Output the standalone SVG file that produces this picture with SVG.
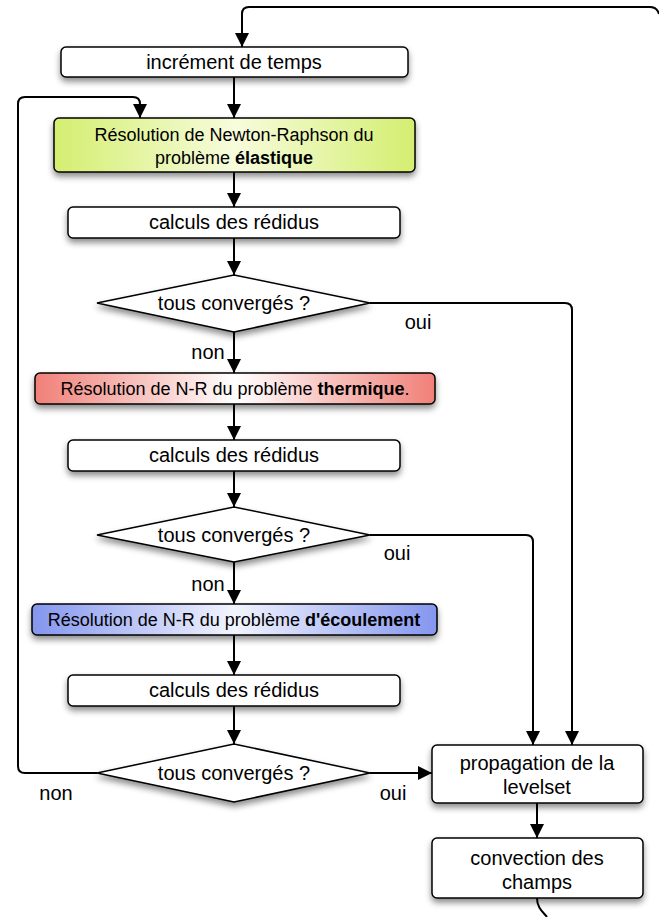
<svg xmlns="http://www.w3.org/2000/svg" width="659" height="917" viewBox="0 0 659 917">
<style>
.box{stroke:#000;stroke-width:1.5;filter:url(#sh)}
.w{fill:#fff}
.t{font-family:"Liberation Sans",Arial,sans-serif;font-size:20px;fill:#000;text-anchor:middle}
.s{font-size:18px}
.b{font-weight:bold}
.c{fill:none;stroke:#000;stroke-width:2}
.a{marker-end:url(#ar)}
</style>
<defs>
<filter id="sh" x="-10%" y="-30%" width="120%" height="170%">
<feDropShadow dx="0" dy="4" stdDeviation="3" flood-color="#000" flood-opacity="0.45"/>
</filter>
<marker id="ar" markerUnits="userSpaceOnUse" markerWidth="14" markerHeight="16" viewBox="0 0 14 16" refX="14" refY="8" orient="auto">
<path d="M0,1 L14,8 L0,15 Z" fill="#000"/>
</marker>
<linearGradient id="gg" x1="0" y1="0" x2="1" y2="0">
<stop offset="0" stop-color="#d4ee70"/><stop offset="0.5" stop-color="#f7fcdc"/><stop offset="1" stop-color="#d4ee70"/>
</linearGradient>
<linearGradient id="gr" x1="0" y1="0" x2="1" y2="0">
<stop offset="0" stop-color="#f08078"/><stop offset="0.5" stop-color="#ffffff"/><stop offset="1" stop-color="#f08078"/>
</linearGradient>
<linearGradient id="gb" x1="0" y1="0" x2="1" y2="0">
<stop offset="0" stop-color="#8496ee"/><stop offset="0.5" stop-color="#f2f4fe"/><stop offset="1" stop-color="#8496ee"/>
</linearGradient>
</defs>
<g id="connectors">
<path class="c" d="M537 898 C537 908 543 912 547 917"/>
<path class="c a" d="M659 14 Q657 7 650 7 H249 Q242 7 242 14 V47"/>
<path class="c a" d="M234 77 V118"/>
<path class="c a" d="M97 773 H25 Q18 773 18 766 V104 Q18 97 25 97 H133 Q140 97 140 104 V118"/>
<path class="c a" d="M234 172 V207"/>
<path class="c a" d="M234 238 V275"/>
<path class="c a" d="M234 332 V373"/>
<path class="c a" d="M370 303 H565 Q572 303 572 310 V745"/>
<path class="c a" d="M234 404 V440"/>
<path class="c a" d="M234 471 V507"/>
<path class="c a" d="M234 562 V604"/>
<path class="c a" d="M370 535 H526 Q533 535 533 542 V745"/>
<path class="c a" d="M234 635 V675"/>
<path class="c a" d="M234 706 V744"/>
<path class="c a" d="M370 773 H432"/>
<path class="c a" d="M537 803 V838"/>
<text class="t" x="418" y="329">oui</text>
<text class="t" x="208" y="359">non</text>
<text class="t" x="397" y="560">oui</text>
<text class="t" x="208" y="591">non</text>
<text class="t" x="393" y="800">oui</text>
<text class="t" x="56" y="800">non</text>
</g>
<g id="n1"><rect class="box w" x="61" y="47" width="347" height="30" rx="5"/><text class="t" x="234" y="69">incrément de temps</text></g>
<g id="n2"><rect class="box" fill="url(#gg)" x="54" y="118" width="361" height="54" rx="5"/><text class="t s" x="234" y="141">Résolution de Newton-Raphson du</text><text class="t s" x="234" y="164">problème <tspan class="b">élastique</tspan></text></g>
<g id="n3"><rect class="box w" x="68" y="207" width="332" height="31" rx="5"/><text class="t" x="234" y="229">calculs des rédidus</text></g>
<g id="d1"><polygon class="box w" points="97,303 234,275 370,303 234,332"/><text class="t" x="234" y="310">tous convergés ?</text></g>
<g id="n4"><rect class="box" fill="url(#gr)" x="35" y="373" width="400" height="31" rx="5"/><text class="t s" x="235" y="395">Résolution de N-R du problème <tspan class="b">thermique</tspan>.</text></g>
<g id="n5"><rect class="box w" x="68" y="440" width="332" height="31" rx="5"/><text class="t" x="234" y="462">calculs des rédidus</text></g>
<g id="d2"><polygon class="box w" points="97,535 234,507 370,535 234,562"/><text class="t" x="234" y="542">tous convergés ?</text></g>
<g id="n6"><rect class="box" fill="url(#gb)" x="32" y="604" width="405" height="31" rx="5"/><text class="t s" x="234" y="626">Résolution de N-R du problème <tspan class="b">d'écoulement</tspan></text></g>
<g id="n7"><rect class="box w" x="68" y="675" width="332" height="31" rx="5"/><text class="t" x="234" y="697">calculs des rédidus</text></g>
<g id="d3"><polygon class="box w" points="97,773 234,744 370,773 234,802"/><text class="t" x="234" y="780">tous convergés ?</text></g>
<g id="n8"><rect class="box w" x="432" y="745" width="211" height="58" rx="5"/><text class="t" x="537" y="770">propagation de la</text><text class="t" x="537" y="794">levelset</text></g>
<g id="n9"><rect class="box w" x="432" y="838" width="211" height="60" rx="5"/><text class="t" x="537" y="865">convection des</text><text class="t" x="537" y="889">champs</text></g>
</svg>
